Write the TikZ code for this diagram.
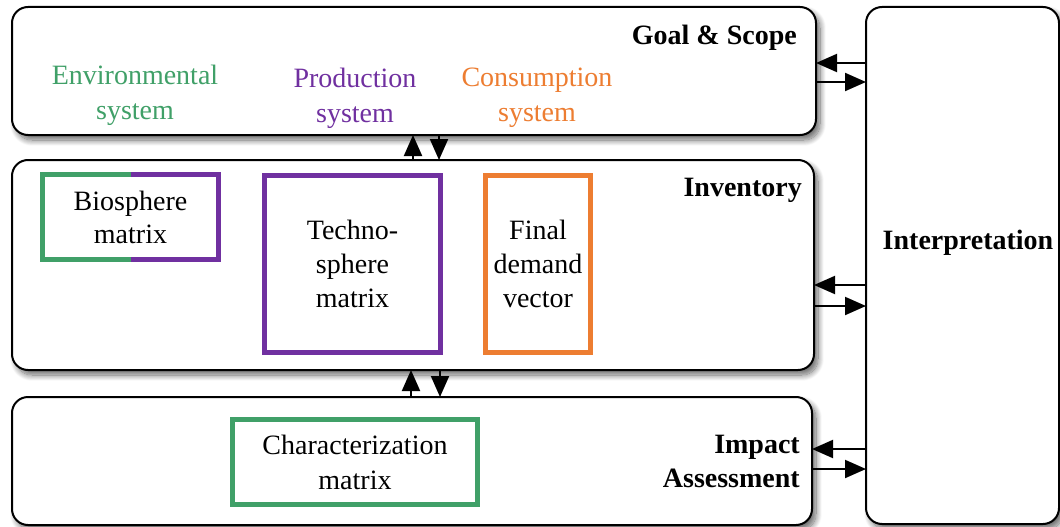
\documentclass[tikz,border=0pt]{standalone}
\usepackage{fontspec}
\setmainfont{Liberation Serif}
\usetikzlibrary{arrows.meta,shadows.blur}
\definecolor{lcagreen}{RGB}{64,160,104}
\definecolor{lcapurple}{RGB}{112,48,160}
\definecolor{lcaorange}{RGB}{237,125,49}
\tikzset{
  bigbox/.style={draw=black, line width=2pt, rounded corners=16pt, fill=white, anchor=north west, outer sep=0pt,
    blur shadow={shadow xshift=4pt, shadow yshift=-5pt, shadow blur radius=6pt, shadow blur steps=12, shadow opacity=60}},
  innerbox/.style={line width=5pt, anchor=north west, align=center, inner sep=0pt, outer sep=0pt},
  lbl/.style={align=center, font=\fontsize{28}{35}\selectfont},
  boldlbl/.style={font=\fontsize{28}{34}\selectfont\bfseries, inner sep=0pt},
  arr/.style={line width=2pt, -{Triangle[length=21pt,width=18pt]}},
}
\begin{document}
\begin{tikzpicture}[x=1pt,y=-1pt]
\useasboundingbox (0,0) rectangle (1060,527);
% main boxes
\node[bigbox, minimum width=193pt, minimum height=517pt] (interp) at (866,7) {};
\node[bigbox, minimum width=804pt, minimum height=128pt] (gs) at (12,7) {};
\node[bigbox, minimum width=802pt, minimum height=210pt] (inv) at (12,160) {};
\node[bigbox, minimum width=800pt, minimum height=128pt] (ia) at (12,397) {};
% titles
\node[boldlbl, anchor=east] (gst) at (797,38) {Goal \& Scope};
\node[boldlbl, anchor=east] (invt) at (802,190) {Inventory};
\node[boldlbl, anchor=east, align=right] (iat) at (800,461) {Impact\\Assessment};
\node[boldlbl] (intt) at (968,243) {Interpretation};
% system labels
\node[lbl, text=lcagreen] (env) at (135,95) {Environmental\\system};
\node[lbl, text=lcapurple] (prod) at (355,98) {Production\\system};
\node[lbl, text=lcaorange] (cons) at (537,98) {Consumption\\system};
% inner boxes
\node[innerbox, minimum width=176pt, minimum height=85pt] (bio) at (42.5,174.5) {};
\draw[line width=5pt, lcagreen] (bio.north) -- (bio.north west) -- (bio.south west) -- (bio.south);
\draw[line width=5pt, lcapurple] (bio.north) -- (bio.north east) -- (bio.south east) -- (bio.south);
\node[lbl, font=\fontsize{28}{33}\selectfont] (biot) at (bio.center) {Biosphere\\matrix};
\node[innerbox, draw=lcapurple, minimum width=176pt, minimum height=177pt, font=\fontsize{28}{34}\selectfont] (tech) at (264.5,175.5) {Techno-\\sphere\\matrix};
\node[innerbox, draw=lcaorange, minimum width=105pt, minimum height=177pt, font=\fontsize{28}{34}\selectfont] (fd) at (485.5,175.5) {Final\\demand\\vector};
\node[innerbox, draw=lcagreen, minimum width=245pt, minimum height=85pt, font=\fontsize{28}{35}\selectfont] (cm) at (232.5,419.5) {Characterization\\matrix};
% vertical arrows
\coordinate (u1) at (413,0);
\coordinate (d1) at (439,0);
\coordinate (u2) at (411,0);
\coordinate (d2) at (440,0);
\draw[arr] (u1 |- inv.north) -- (u1 |- gs.south);
\draw[arr] (d1 |- gs.south) -- (d1 |- inv.north);
\draw[arr] (u2 |- ia.north) -- (u2 |- inv.south);
\draw[arr] (d2 |- inv.south) -- (d2 |- ia.north);
% horizontal arrows
\coordinate (h1) at (0,63);
\coordinate (h2) at (0,82);
\coordinate (h3) at (0,285);
\coordinate (h4) at (0,306);
\coordinate (h5) at (0,449);
\coordinate (h6) at (0,469);
\draw[arr] (h1 -| interp.west) -- (h1 -| gs.east);
\draw[arr] (h2 -| gs.east) -- (h2 -| interp.west);
\draw[arr] (h3 -| interp.west) -- (h3 -| inv.east);
\draw[arr] (h4 -| inv.east) -- (h4 -| interp.west);
\draw[arr] (h5 -| interp.west) -- (h5 -| ia.east);
\draw[arr] (h6 -| ia.east) -- (h6 -| interp.west);
\end{tikzpicture}
\end{document}
